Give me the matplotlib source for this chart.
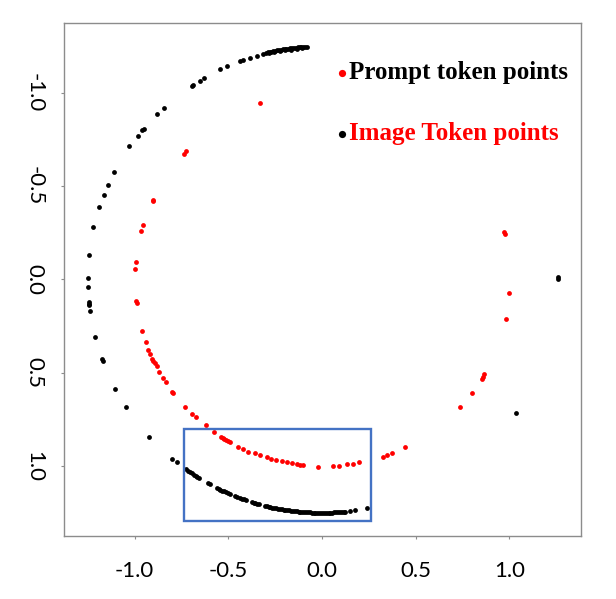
"""
plot.py
───────
Token embedding ring plot: prompt tokens (red, inner ring) and image tokens
(black, outer ring), with a blue box marking the zoomed-in bottom region.

Output: out.png (616 x 599 px)
"""
import matplotlib

matplotlib.use("Agg")
import matplotlib.pyplot as plt
from matplotlib.patches import Rectangle

plt.rcParams["axes.unicode_minus"] = False

# ── image token points (black, outer ring) ──────────────────────────────
image_x = [
    # top arc, dense band
    -0.082, -0.090, -0.100, -0.110, -0.120, -0.130, -0.140, -0.150, -0.160,
    -0.170, -0.180, -0.190, -0.200, -0.210, -0.220, -0.230, -0.240, -0.250,
    -0.260, -0.270, -0.280, -0.290, -0.300, -0.313,
    -0.105, -0.135, -0.165, -0.195, -0.225, -0.255, -0.285,
    # top-left arc, sparse
    -0.349, -0.384, -0.420, -0.438, -0.509, -0.545, -0.630, -0.651, -0.690,
    -0.696, -0.842, -0.879, -0.950, -0.959, -0.984, -1.029, -1.109, -1.141,
    -1.166, -1.190, -1.221, -1.244, -1.251, -1.251, -1.244, -1.244, -1.244,
    -1.240, -1.212, -1.176, -1.171, -1.104, -1.046, -0.924, -0.799, -0.776,
    # bottom arc
    -0.726, -0.715, -0.705, -0.695, -0.685, -0.675, -0.665, -0.655, -0.607,
    -0.597, -0.562, -0.552, -0.542, -0.532, -0.522, -0.512, -0.502, -0.492,
    -0.464, -0.452, -0.440, -0.428, -0.416, -0.404, -0.375, -0.365, -0.355,
    -0.345, -0.335, -0.305, -0.295, -0.285, -0.275, -0.265, -0.255, -0.245,
    -0.235, -0.225, -0.215, -0.205, -0.195, -0.185, -0.175, -0.165, -0.155,
    -0.145, -0.135, -0.125, -0.115, -0.105, -0.095, -0.085, -0.075, -0.065,
    -0.055, -0.045, -0.035, -0.025, -0.015, -0.005, 0.005, 0.015, 0.025,
    0.035, 0.045, 0.055, 0.065, 0.075, 0.085, 0.095, 0.105, 0.115, 0.125,
    0.149, 0.176, 0.242,
    # right side
    1.258, 1.258, 1.034,
]
image_y = [
    -1.247, -1.247, -1.246, -1.245, -1.244, -1.243, -1.242, -1.241, -1.240,
    -1.238, -1.237, -1.236, -1.234, -1.232, -1.231, -1.229, -1.227, -1.225,
    -1.223, -1.221, -1.218, -1.216, -1.214, -1.210,
    -1.238, -1.235, -1.231, -1.227, -1.222, -1.217, -1.211,
    -1.198, -1.187, -1.178, -1.171, -1.142, -1.126, -1.080, -1.064, -1.040,
    -1.037, -0.920, -0.885, -0.807, -0.798, -0.770, -0.714, -0.577, -0.505,
    -0.450, -0.386, -0.279, -0.130, -0.007, 0.040, 0.122, 0.129, 0.136,
    0.168, 0.311, 0.427, 0.439, 0.588, 0.684, 0.843, 0.961, 0.980,
    1.018, 1.025, 1.032, 1.039, 1.046, 1.052, 1.058, 1.065, 1.093,
    1.098, 1.117, 1.122, 1.126, 1.131, 1.136, 1.140, 1.145, 1.149,
    1.161, 1.165, 1.170, 1.174, 1.179, 1.183, 1.192, 1.196, 1.199,
    1.202, 1.204, 1.212, 1.215, 1.217, 1.219, 1.222, 1.224, 1.226,
    1.228, 1.230, 1.231, 1.233, 1.235, 1.236, 1.238, 1.239, 1.240,
    1.242, 1.243, 1.244, 1.245, 1.246, 1.246, 1.247, 1.248, 1.248,
    1.249, 1.249, 1.250, 1.250, 1.250, 1.250, 1.250, 1.250, 1.250,
    1.250, 1.249, 1.249, 1.248, 1.248, 1.247, 1.246, 1.246, 1.245, 1.244,
    1.241, 1.238, 1.226,
    -0.013, -0.003, 0.714,
]

# ── prompt token points (red, inner ring) ───────────────────────────────
prompt_x = [
    -0.331, -0.726, -0.737, -0.904, -0.900, -0.956, -0.966, -0.993, -0.997,
    -0.993, -0.990, -0.959, -0.941, -0.929, -0.918, -0.908, -0.901, -0.893,
    -0.883, -0.870, -0.849, -0.835, -0.799, -0.795, -0.731, -0.692, -0.671,
    -0.619, -0.575, -0.539, -0.530, -0.521, -0.510, -0.500, -0.491, -0.447,
    -0.420, -0.393, -0.358, -0.331, -0.295, -0.270, -0.248, -0.215, -0.188,
    -0.162, -0.135, -0.117, -0.100, -0.020, 0.060, 0.091, 0.135, 0.164,
    0.199, 0.327, 0.349, 0.372, 0.443, 0.735, 0.801, 0.853, 0.858,
    0.866, 0.984, 1.000, 0.972, 0.974,
]
prompt_y = [
    -0.943, -0.687, -0.671, -0.418, -0.425, -0.292, -0.260, -0.096, -0.057,
    0.118, 0.125, 0.277, 0.336, 0.377, 0.400, 0.425, 0.436, 0.447,
    0.464, 0.497, 0.529, 0.550, 0.604, 0.608, 0.684, 0.721, 0.739,
    0.782, 0.820, 0.843, 0.848, 0.854, 0.861, 0.867, 0.873, 0.897,
    0.911, 0.923, 0.932, 0.941, 0.953, 0.962, 0.968, 0.975, 0.980,
    0.986, 0.991, 0.995, 0.996, 1.004, 1.000, 1.000, 0.991, 0.988,
    0.979, 0.950, 0.940, 0.932, 0.900, 0.684, 0.607, 0.534, 0.522,
    0.507, 0.212, 0.075, -0.255, -0.246,
]

TICKS = [-1.0, -0.5, 0.0, 0.5, 1.0]
ZOOM_BOX = dict(x0=-0.737, y0=0.803, x1=0.262, y1=1.293)

LABELS = ["Prompt token points", "Image Token points"]
LABEL_COLORS = ["black", "red"]


def main() -> None:
    fig = plt.figure(figsize=(6.16, 5.99), dpi=100)
    ax = fig.add_axes([0.1045, 0.106, 0.838, 0.855])

    red = ax.scatter(prompt_x, prompt_y, s=12, color="red", linewidths=0,
                     label=LABELS[0])
    black = ax.scatter(image_x, image_y, s=12, color="black", linewidths=0,
                       label=LABELS[1])

    box = Rectangle((ZOOM_BOX["x0"], ZOOM_BOX["y0"]),
                    ZOOM_BOX["x1"] - ZOOM_BOX["x0"],
                    ZOOM_BOX["y1"] - ZOOM_BOX["y0"],
                    fill=False, edgecolor="#4472C4", linewidth=1.7, zorder=3)
    ax.add_patch(box)

    ax.set_xlim(-1.375, 1.38)
    ax.set_ylim(1.372, -1.372)   # y grows downward

    ax.set_xticks(TICKS)
    ax.set_yticks(TICKS)
    ax.set_xticklabels([f"{t:.1f}" for t in TICKS])
    ax.set_yticklabels([f"{t:.1f}" for t in TICKS])

    for spine in ax.spines.values():
        spine.set_color("#8c8c8c")
        spine.set_linewidth(1.0)

    ax.tick_params(direction="out", length=2.2, width=0.8, color="#8c8c8c",
                   labelsize=16, labelfontfamily="Lato")
    ax.tick_params(axis="x", pad=16.5)
    ax.tick_params(axis="y", pad=12, labelrotation=-90)
    for lab in ax.get_yticklabels():
        lab.set_verticalalignment("center")
        lab.set_horizontalalignment("right")

    leg = ax.legend(handles=[red, black], loc="upper left",
                    bbox_to_anchor=(0.5274, 0.926), frameon=False,
                    prop=dict(family="Liberation Serif", weight="bold",
                              size=18),
                    handlelength=0.4, handletextpad=0.1, borderpad=0,
                    borderaxespad=0, labelspacing=1.52, markerscale=1.5,
                    scatterpoints=1)
    for text, color in zip(leg.get_texts(), LABEL_COLORS):
        text.set_color(color)

    fig.savefig("out.png", dpi=100, facecolor="white")
    plt.close(fig)


if __name__ == "__main__":
    main()
